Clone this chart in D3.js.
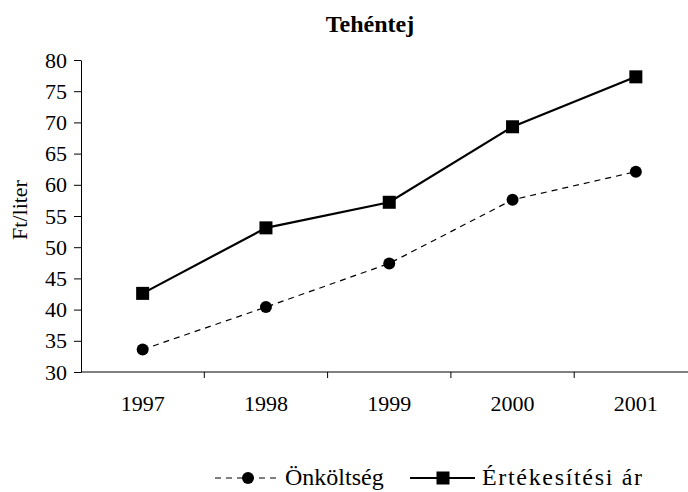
<!DOCTYPE html>
<html>
<head>
<meta charset="utf-8">
<script src="https://cdn.jsdelivr.net/npm/d3@7"></script>
<style>
  body { margin: 0; background: #fff; overflow: hidden; }
  svg text { font-family: "Liberation Serif", "Times New Roman", serif; fill: #000; }
</style>
</head>
<body>
<div id="chart"></div>
<script>
const years = ['1997', '1998', '1999', '2000', '2001'];
const onkoltseg = [33.6, 40.4, 47.4, 57.6, 62.1];
const ertekesitesiAr = [42.6, 53.1, 57.2, 69.3, 77.3];
const yTicks = [30, 35, 40, 45, 50, 55, 60, 65, 70, 75, 80];

const w = 688, h = 492;
const padLeft = 81, bandStep = 123.3, padTop = 60, padBottom = 372;
const fontSize = '22px';

const svg = d3.select('#chart').append('svg')
  .attr('width', w).attr('height', h);

const x = d3.scaleBand().domain(years).range([padLeft, padLeft + bandStep * years.length]);
const y = d3.scaleLinear().domain([30, 80]).range([padBottom, padTop]);

// title
svg.append('text')
  .attr('x', 370).attr('y', 32)
  .attr('text-anchor', 'middle')
  .style('font-size', '24px').style('font-weight', 'bold')
  .text('Tehéntej');

// y axis label
svg.append('text')
  .attr('transform', 'translate(27,' + 210 + ') rotate(-90)')
  .attr('text-anchor', 'middle')
  .style('font-size', fontSize)
  .text('Ft/liter');

// y axis
const yAxis = svg.append('g')
  .attr('transform', 'translate(' + padLeft + ',0)')
  .call(d3.axisLeft(y).tickValues(yTicks).tickSize(7).tickPadding(7).tickSizeOuter(0));
yAxis.selectAll('text')
  .style('font-size', fontSize)
  .style('font-family', '"Liberation Serif", serif');
yAxis.select('.domain').attr('stroke', '#000');
yAxis.selectAll('.tick line').attr('stroke', '#000');

// x axis: ticks at category boundaries
const xAxis = svg.append('g')
  .attr('transform', 'translate(0,' + padBottom + ')');
xAxis.append('line')
  .attr('x1', padLeft).attr('x2', w).attr('stroke', '#000');
xAxis.selectAll('.bt')
  .data(years)
  .enter().append('line')
  .attr('x1', d => x(d) + x.step())
  .attr('x2', d => x(d) + x.step())
  .attr('y1', 0).attr('y2', 6)
  .attr('stroke', '#000');
xAxis.selectAll('.lbl')
  .data(years).enter().append('text')
  .attr('x', d => x(d) + x.bandwidth() / 2)
  .attr('y', 39)
  .attr('text-anchor', 'middle')
  .style('font-size', fontSize)
  .text(d => d);

const cx = d => x(d) + x.bandwidth() / 2;
const line = d3.line().x((d, i) => cx(years[i])).y(d => y(d));

// Önköltség
svg.append('path')
  .datum(onkoltseg)
  .attr('d', line)
  .attr('fill', 'none').attr('stroke', '#000')
  .attr('stroke-width', 1.2).attr('stroke-dasharray', '6,5');
svg.selectAll('.dot')
  .data(onkoltseg).enter().append('circle')
  .attr('cx', (d, i) => cx(years[i]))
  .attr('cy', d => y(d))
  .attr('r', 6).attr('fill', '#000');

// Értékesítési ár
svg.append('path')
  .datum(ertekesitesiAr)
  .attr('d', line)
  .attr('fill', 'none').attr('stroke', '#000')
  .attr('stroke-width', 2.2);
svg.selectAll('.sq')
  .data(ertekesitesiAr).enter().append('rect')
  .attr('x', (d, i) => cx(years[i]) - 6.5)
  .attr('y', d => y(d) - 6.5)
  .attr('width', 13).attr('height', 13)
  .attr('fill', '#000');

// legend
const legY = 478;
const leg = svg.append('g');
leg.append('line')
  .attr('x1', 215).attr('x2', 280).attr('y1', legY).attr('y2', legY)
  .attr('stroke', '#000').attr('stroke-width', 1.2).attr('stroke-dasharray', '6,5');
leg.append('circle').attr('cx', 248).attr('cy', legY).attr('r', 6).attr('fill', '#000');
leg.append('text').attr('x', 285).attr('y', legY + 7)
  .style('font-size', '24px')
  .text('Önköltség');

leg.append('line')
  .attr('x1', 410).attr('x2', 475).attr('y1', legY).attr('y2', legY)
  .attr('stroke', '#000').attr('stroke-width', 2.2);
leg.append('rect').attr('x', 436.5).attr('y', legY - 6.5).attr('width', 13).attr('height', 13).attr('fill', '#000');
leg.append('text').attr('x', 482).attr('y', legY + 7)
  .style('font-size', '24px')
  .attr('textLength', 160).attr('lengthAdjust', 'spacing')
  .text('Értékesítési ár');
</script>
</body>
</html>
